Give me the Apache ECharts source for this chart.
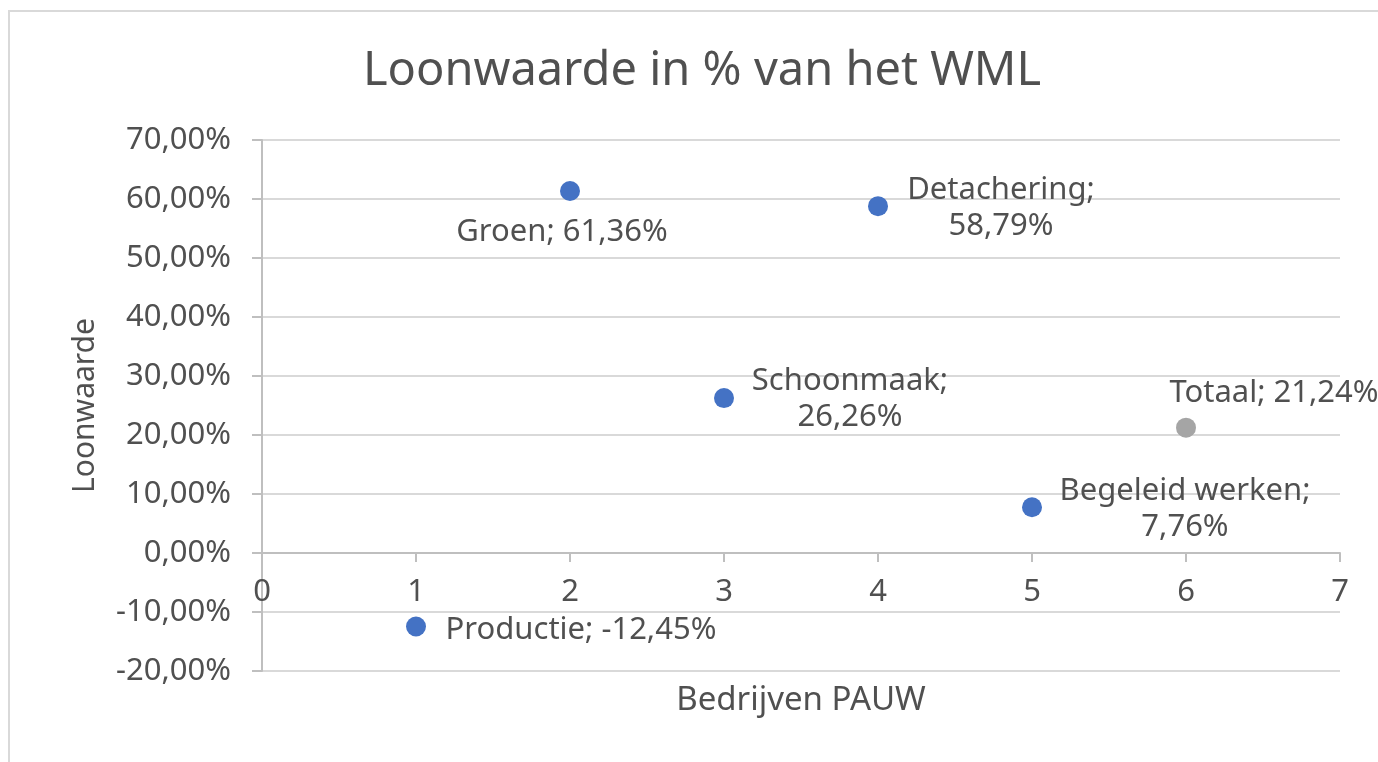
<!DOCTYPE html>
<html>
<head>
<meta charset="UTF-8">
<title>Loonwaarde in % van het WML</title>
<style>
  html, body { margin: 0; padding: 0; background: #fff; }
  #chart { width: 1378px; height: 762px; }
</style>
</head>
<body>
<div id="chart"></div>
<script src="https://cdn.jsdelivr.net/npm/echarts@6/dist/echarts.min.js"></script>
<script>
// data
var afdelingen = ['Productie', 'Groen', 'Schoonmaak', 'Detachering', 'Begeleid werken'];
var afdelingX = [1, 2, 3, 4, 5];
var afdelingWaarde = [-12.45, 61.36, 26.26, 58.79, 7.76];
var totaalNaam = 'Totaal';
var totaalX = 6;
var totaalWaarde = 21.24;

// label placement (px offset from the dot) and line break after the ';'
var labelSpot = {
  'Productie': [165, 4, false],
  'Groen': [-8, 41, false],
  'Schoonmaak': [126, 1, true],
  'Detachering': [123, 2, true],
  'Begeleid werken': [153, 2, true],
  'Totaal': [88, -35, false]
};

var textColor = '#505050';
var fontName = 'Noto Sans';

function pct(v) {
  return v.toFixed(2).replace('.', ',') + '%';
}

function punt(naam, x, y) {
  var s = labelSpot[naam];
  return {
    name: naam,
    value: [x, y],
    label: {
      offset: [s[0], s[1]],
      formatter: naam + ';' + (s[2] ? '\n' : ' ') + pct(y)
    }
  };
}

var blauw = [];
for (var i = 0; i < afdelingen.length; i++) {
  blauw.push(punt(afdelingen[i], afdelingX[i], afdelingWaarde[i]));
}
var grijs = [punt(totaalNaam, totaalX, totaalWaarde)];

var labelStyle = {
  show: true,
  position: 'inside',
  align: 'center',
  verticalAlign: 'middle',
  color: textColor,
  fontFamily: fontName,
  fontSize: 31,
  lineHeight: 36
};

var chart = echarts.init(document.getElementById('chart'));
chart.setOption({
  animation: false,
  textStyle: { fontFamily: fontName },
  graphic: [{
    type: 'rect',
    shape: { x: 9, y: 11, width: 1420, height: 800 },
    style: { fill: 'none', stroke: '#d9d9d9', lineWidth: 2 },
    silent: true
  }],
  title: {
    text: 'Loonwaarde in % van het WML',
    left: 697,
    top: 43,
    textAlign: 'center',
    textStyle: { color: textColor, fontFamily: fontName, fontSize: 47, fontWeight: 'normal' }
  },
  grid: { left: 262, right: 38, top: 140, bottom: 91, outerBoundsMode: 'none', containLabel: false },
  xAxis: {
    type: 'value',
    min: 0,
    max: 7,
    interval: 1,
    name: 'Bedrijven PAUW',
    nameLocation: 'middle',
    nameGap: 131,
    nameTextStyle: { color: textColor, fontSize: 33 },
    axisLine: { show: true, onZero: false, lineStyle: { color: '#bfbfbf', width: 2 } },
    axisTick: { show: true, length: 9, lineStyle: { color: '#bfbfbf', width: 2 } },
    axisLabel: { color: textColor, fontSize: 31, margin: 24, formatter: function (v) { return String(v); } },
    splitLine: { show: false }
  },
  yAxis: {
    type: 'value',
    min: -20,
    max: 70,
    interval: 10,
    name: 'Loonwaarde',
    nameLocation: 'middle',
    nameGap: 162,
    nameRotate: 90,
    nameTextStyle: { color: textColor, fontSize: 30 },
    axisLine: { show: true, onZero: false, lineStyle: { color: '#bfbfbf', width: 2 } },
    axisTick: { show: true, length: 10, lineStyle: { color: '#bfbfbf', width: 2 } },
    axisLabel: { color: textColor, fontSize: 31, margin: 31, formatter: pct },
    splitLine: { show: true, lineStyle: { color: '#d9d9d9', width: 2 } }
  },
  series: [{
    name: 'Bedrijven',
    type: 'scatter',
    symbol: 'circle',
    symbolSize: 20,
    itemStyle: { color: '#4472c4', opacity: 1 },
    label: labelStyle,
    data: blauw
  }, {
    name: totaalNaam,
    type: 'scatter',
    symbol: 'circle',
    symbolSize: 20,
    itemStyle: { color: '#a5a5a5', opacity: 1 },
    label: labelStyle,
    data: grijs
  }]
});

// onZero does not kick in here, so move the x axis up to the 0% line by hand
var nulY = chart.convertToPixel({ yAxisIndex: 0 }, 0);
var bodemY = chart.convertToPixel({ yAxisIndex: 0 }, -20);
chart.setOption({ xAxis: { offset: nulY - bodemY } });
</script>
</body>
</html>
